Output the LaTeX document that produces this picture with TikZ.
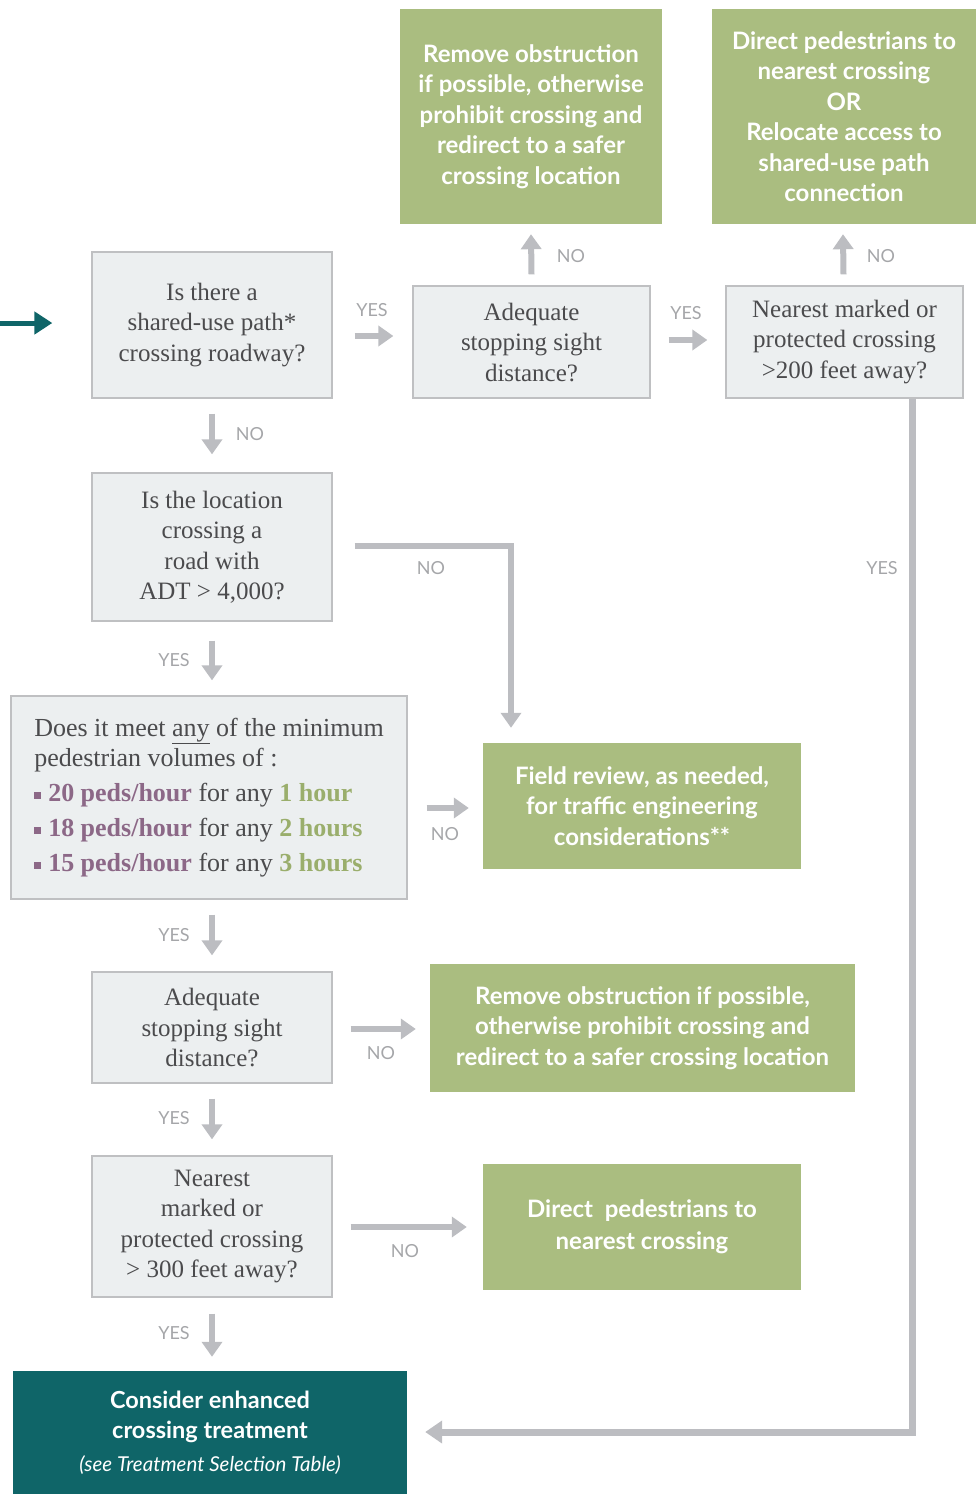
\documentclass[tikz,border=0pt]{standalone}
\usepackage{fontspec}
\setmainfont{Liberation Serif}
\newfontfamily\gill{Lato}
\usetikzlibrary{arrows.meta,calc}
\definecolor{gfill}{HTML}{ECEFF0}
\definecolor{gline}{HTML}{BFC0C2}
\definecolor{leaf}{HTML}{AABD80}
\definecolor{deepteal}{HTML}{0F6568}
\definecolor{arrowgray}{HTML}{BCBDC1}
\definecolor{lblgray}{HTML}{A5A6A9}
\definecolor{txt}{HTML}{4B4B4D}
\definecolor{pedpurple}{HTML}{8C6887}
\definecolor{hrgreen}{HTML}{9AAE6C}
\newcommand{\pedbullet}{\textcolor{pedpurple}{\rule[3pt]{7pt}{7pt}}\hspace{7pt}}
\begin{document}
\begin{tikzpicture}[x=1pt,y=-1pt,
  qbox/.style={draw=gline, line width=1.3pt, fill=gfill, text=txt,
    font=\fontsize{25}{30.5}\selectfont, align=center, inner sep=0pt},
  act/.style={fill=leaf, text=white, font=\gill\bfseries\fontsize{24}{30.5}\selectfont,
    align=center, inner sep=0pt},
  lbl/.style={text=lblgray, font=\gill\fontsize{18}{18}\selectfont, inner sep=0pt},
  garrow/.style={draw=arrowgray, line width=6pt, -{Triangle[width=20pt,length=15pt]}},
  longarrow/.style={draw=arrowgray, line width=7pt, line join=miter, -{Triangle[width=22pt,length=17pt]}}]
\useasboundingbox (0,0) rectangle (976,1494);

% boxes
\node[qbox, minimum width=240, minimum height=146] (A) at (212,325)
  {Is there a\\ shared-use path*\\ crossing roadway?};
\node[qbox, minimum width=237, minimum height=112] (B) at (531.5,342)
  {Adequate\\ stopping sight\\ distance?};
\node[qbox, minimum width=237, minimum height=112] (C) at (844.5,342)
  {Nearest marked or\\ protected crossing\\ >200 feet away?};
\node[act, minimum width=262, minimum height=215] (G1) at (531,116.5)
  {Remove obstruction\\ if possible, otherwise\\ prohibit crossing and\\ redirect to a safer\\ crossing location};
\node[act, minimum width=264, minimum height=215] (G2) at (844,116.5)
  {Direct pedestrians to\\ nearest crossing\\ OR\\ Relocate access to\\ shared-use path\\ connection};
\node[qbox, minimum width=240, minimum height=148] (D) at (212,547)
  {Is the location\\ crossing a\\ road with\\ ADT > 4,000?};
\node[qbox, minimum width=396, minimum height=203, align=left, font=\fontsize{26}{30.5}\selectfont] (E) at (209,797.5)
  {Does it meet \underline{any} of the minimum\\
   pedestrian volumes of :\\[4.5pt]
   \pedbullet\textcolor{pedpurple}{\textbf{20 peds/hour}} for any \textcolor{hrgreen}{\textbf{1 hour}}\\[4.5pt]
   \pedbullet\textcolor{pedpurple}{\textbf{18 peds/hour}} for any \textcolor{hrgreen}{\textbf{2 hours}}\\[4.5pt]
   \pedbullet\textcolor{pedpurple}{\textbf{15 peds/hour}} for any \textcolor{hrgreen}{\textbf{3 hours}}};
\node[act, minimum width=318, minimum height=126] (F) at (642,806)
  {Field review, as needed,\\ for traffic engineering\\ considerations**};
\node[act, minimum width=425, minimum height=128] (I) at (642.5,1028)
  {Remove obstruction if possible,\\ otherwise prohibit crossing and\\ redirect to a safer crossing location};
\node[qbox, minimum width=240, minimum height=111] (H) at (212,1027.5)
  {Adequate\\ stopping sight\\ distance?};
\node[qbox, minimum width=240, minimum height=141] (J) at (212,1226.5)
  {Nearest\\ marked or\\ protected crossing\\ > 300 feet away?};
\node[act, minimum width=318, minimum height=126, font=\gill\bfseries\fontsize{24}{32}\selectfont] (K) at (642,1227)
  {Direct\ \ pedestrians to\\ nearest crossing};
\node[act, fill=deepteal, minimum width=394, minimum height=124, font=\gill\bfseries\fontsize{23.5}{30}\selectfont] (L) at (210,1433)
  {Consider enhanced\\ crossing treatment\\[3pt] {\gill\mdseries\itshape\fontsize{20.5}{22}\selectfont (see Treatment\ Selection Table)}};

% entry arrow
\coordinate (start) at (0,323);
\draw[draw=deepteal, line width=5pt, -{Triangle[width=22pt,length=18pt]}] (start) -- ($(A.west)+(-39,-2)$);

% connectors
\draw[garrow] ($(A.east)+(22,11)$) -- ($(B.west)+(-19,-6)$);
\draw[garrow] ($(B.east)+(18,-2)$) -- ($(C.west)+(-18,-2)$);
\draw[garrow] ($(B.north)+(0,-11)$) -- ($(G1.south)+(0,10)$);
\draw[garrow] ($(C.north)+(-1,-11)$) -- ($(G2.south)+(-1,10)$);
\draw[garrow] ($(A.south)+(0,15)$) -- ($(D.north)+(0,-18)$);
\draw[garrow, line join=miter] ($(D.east)+(22,-1)$) -| ($(F.north)+(-131,-15)$);
\draw[garrow] ($(D.south)+(0,19)$) -- ($(E.north)+(3,-15)$);
\draw[garrow] ($(E.east)+(19,10.5)$) -- ($(F.west)+(-14,2)$);
\draw[garrow] ($(E.south)+(3,15)$) -- ($(H.north)+(0,-16)$);
\draw[garrow] ($(H.east)+(18,1.5)$) -- ($(I.west)+(-14,1)$);
\draw[garrow] ($(H.south)+(0,15)$) -- ($(J.north)+(0,-16)$);
\draw[garrow] ($(J.east)+(18,0.5)$) -- ($(K.west)+(-16,0)$);
\draw[garrow] ($(J.south)+(0,16)$) -- ($(L.north)+(2,-14)$);
\draw[longarrow] ($(C.south)+(67.5,0)$) |- ($(L.east)+(18,-1)$);

% labels
\node[lbl] (l1) at (372,310) {YES};
\node[lbl] (l2) at (686,313) {YES};
\node[lbl] (l3) at (571,256) {NO};
\node[lbl] (l4) at (881,256) {NO};
\node[lbl] (l5) at (250,434) {NO};
\node[lbl] (l6) at (431,568) {NO};
\node[lbl] (l7) at (445,834) {NO};
\node[lbl] (l8) at (381,1053) {NO};
\node[lbl] (l9) at (405,1251) {NO};
\node[lbl] (l10) at (174,660) {YES};
\node[lbl] (l11) at (174,935) {YES};
\node[lbl] (l12) at (174,1118) {YES};
\node[lbl] (l13) at (174,1333) {YES};
\node[lbl] (l14) at (882,568) {YES};
\end{tikzpicture}
\end{document}
